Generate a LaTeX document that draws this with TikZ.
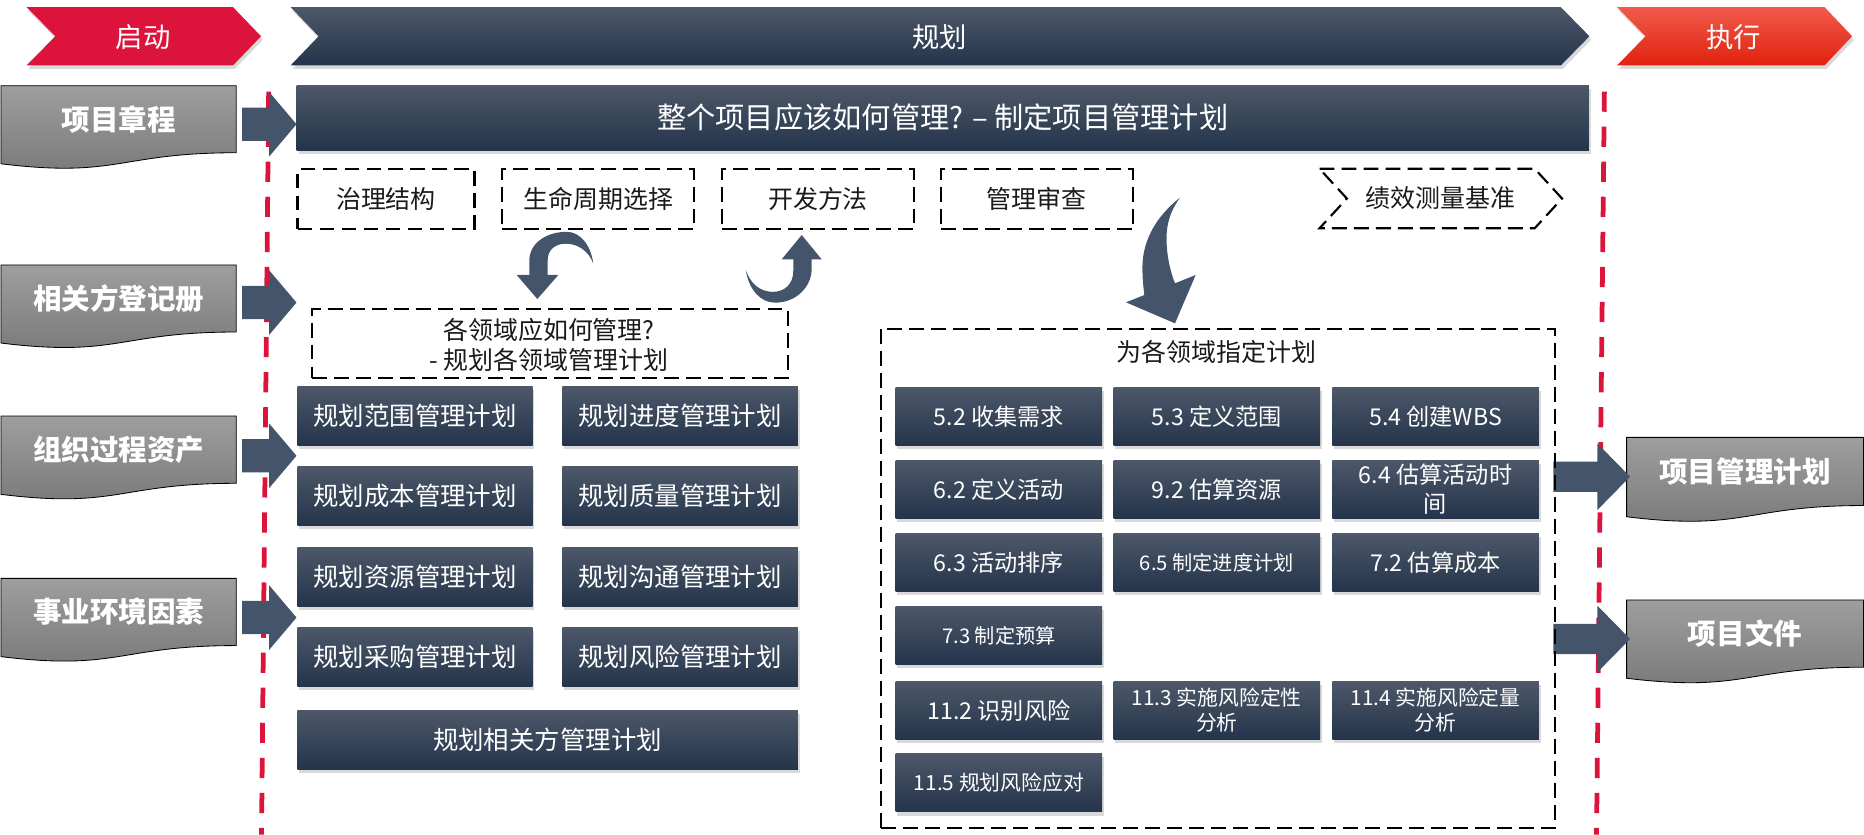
\documentclass[tikz,border=0pt]{standalone}
\usepackage{fontspec}
\setmainfont{Noto Sans CJK SC}
\usetikzlibrary{shadows}
\definecolor{navyT}{HTML}{4D5869}
\definecolor{navyB}{HTML}{24344B}
\definecolor{arrowc}{HTML}{44546A}
\definecolor{crim}{HTML}{DC143C}
\definecolor{exT}{HTML}{F05A4C}
\definecolor{exB}{HTML}{E0220E}
\definecolor{docT}{HTML}{9E9E9E}
\definecolor{docB}{HTML}{787878}
\definecolor{txt}{HTML}{1A1A1A}

\tikzset{
  shad/.style={drop shadow={opacity=0.3, shadow xshift=1.5pt, shadow yshift=-3pt}},
  darkbox/.style={rectangle, top color=navyT, bottom color=navyB, draw=none, text=white,
    align=center, inner sep=0pt, anchor=north west, shad},
  lbox/.style={darkbox, minimum width=198pt, minimum height=49.7pt, font=\fontsize{21.4}{26}\selectfont},
  rbox/.style={darkbox, minimum width=173.8pt, minimum height=49.1pt, font=\fontsize{19.5}{24}\selectfont},
  rsmall/.style={font=\fontsize{17}{21}\selectfont},
  rmid/.style={font=\fontsize{17.5}{21}\selectfont},
  dashline/.style={draw=black, line width=1.8pt, dash pattern=on 12.5pt off 6pt},
  dashbox/.style={rectangle, dashline, anchor=north west, inner sep=0pt, text=txt,
    align=center, font=\fontsize{21}{25}\selectfont},
  dtext/.style={text=txt, align=center, font=\fontsize{21}{25}\selectfont},
  doc/.style={top color=docT, bottom color=docB, draw=black, line width=0.7pt},
  doctext/.style={text=white, font=\bfseries\fontsize{24}{29}\selectfont},
  headtext/.style={text=white, font=\fontsize{23}{28}\selectfont},
  reddash/.style={draw=crim, line width=4pt, dash pattern=on 17pt off 12.5pt},
}

% document shape: name, x, y, w, h, text
\newcommand\mydoc[6]{%
  \path[doc] (#2,#3) -- ({#2+#4},#3) -- ({#2+#4},{#3+0.802*#5})
    .. controls ({#2+0.5*#4},{#3+0.802*#5}) and ({#2+0.5*#4},{#3+1.107*#5}) .. (#2,{#3+0.934*#5}) -- cycle;
  \node[doctext] (#1) at ({#2+0.5*#4},{#3+0.401*#5}) {#6};}
% block arrow: x1, xhead, xtip, ycentre, shaft half, head half
\newcommand\fatarrow[6]{%
  \fill[arrowc] (#1,{#4-#5}) -- (#2,{#4-#5}) -- (#2,{#4-#6}) -- (#3,#4) -- (#2,{#4+#6})
    -- (#2,{#4+#5}) -- (#1,{#4+#5}) -- cycle;}
% chevron: x1, x2, tip, notch, ytop, ybottom
\newcommand\mychev[6]{(#1,#5) -- (#2,#5) -- (#3,{(#5+#6)/2}) -- (#2,#6) -- (#1,#6) -- (#4,{(#5+#6)/2}) -- cycle}

\begin{document}
\begin{tikzpicture}[x=1pt,y=-1pt]
\useasboundingbox (0,0) rectangle (1568,702);

% header chevrons
\path[fill=crim, shad] \mychev{22.3}{196}{219.6}{46.6}{6}{55};
\node[headtext] (hqd) at (120.5,31) {启动};
\path[top color=navyT, bottom color=navyB, shad] \mychev{244.5}{1313}{1337}{268}{6}{55};
\node[headtext] (hgh) at (790.5,31) {规划};
\path[top color=exT, bottom color=exB, shad] \mychev{1360.3}{1534.8}{1558}{1384.2}{6}{55};
\node[headtext] (hzx) at (1458.3,31) {执行};

% red dashed phase lines
\draw[reddash] (226,77) -- (220,702);
\draw[reddash] (1349.6,77) -- (1343,702);

% input documents
\mydoc{in1}{0.8}{72.1}{198}{70.3}{项目章程}
\mydoc{in2}{0.8}{222.9}{198}{70.3}{相关方登记册}
\mydoc{in3}{0.8}{350}{198}{70.5}{组织过程资产}
\mydoc{in4}{0.8}{486.5}{198}{70.5}{事业环境因素}
% output documents
\mydoc{out1}{1368.3}{367.9}{199.2}{71.5}{项目管理计划}
\mydoc{out2}{1368.3}{504.7}{199.2}{70.5}{项目文件}

% main title bar
\node[darkbox, minimum width=1087pt, minimum height=54.7pt, font=\fontsize{24.6}{29}\selectfont]
  (title) at (249.4,71.5) {整个项目应该如何管理? – 制定项目管理计划};

% block arrows
\fatarrow{203.6}{226.3}{249.4}{104.5}{14}{27.3}
\fatarrow{203.6}{226.3}{249.4}{254.5}{14}{27.3}
\fatarrow{203.6}{226.3}{249.4}{383.4}{14}{27.3}
\fatarrow{203.6}{226.3}{249.4}{519.5}{14}{27.3}
\fatarrow{1306.6}{1343.7}{1371.2}{401}{12.7}{28}
\fatarrow{1306.6}{1343.7}{1371.2}{537.5}{12.7}{28}

% dashed option boxes
\node[dashbox, minimum width=148.8pt, minimum height=50.4pt] (gov) at (249.4,141.6) {治理结构};
\node[dashbox, minimum width=161.6pt, minimum height=50.4pt] (life) at (421.4,141.6) {生命周期选择};
\node[dashbox, minimum width=161.6pt, minimum height=50.4pt] (dev) at (606.4,141.6) {开发方法};
\node[dashbox, minimum width=161.7pt, minimum height=50.4pt] (rev) at (790.5,141.6) {管理审查};
\path[dashline] \mychev{1110}{1291}{1314}{1133}{142}{192};
\node[dtext] (pmb) at (1212,167) {绩效测量基准};

% curved arrows
\fill[arrowc] (445.3,231.3) -- (434.6,231.3) -- (452,251.5) -- (469.7,231.3) -- (460.7,231.3)
  -- (460.7,219) .. controls (460.7,210) and (467,205) .. (476,205)
  .. controls (486,205) and (495,211) .. (499,221.5)
  .. controls (497,206) and (488,195) .. (476.7,195)
  .. controls (459,195) and (445.3,205) .. (445.3,219) -- cycle;
\fill[arrowc] (627.3,227.1) .. controls (630,244) and (640,254.6) .. (652,254.6)
  .. controls (670,254.6) and (682.8,241) .. (682.8,226) -- (682.8,218.2) -- (691.2,218.2)
  -- (674.4,197.7) -- (657.5,218.2) -- (667.3,218.2) -- (667.3,228)
  .. controls (667.3,239) and (660,245.5) .. (650,245.5)
  .. controls (639,245.5) and (631,238) .. (627.3,227.1) -- cycle;
\fill[arrowc] (992.6,166.3) .. controls (975,180) and (961,200) .. (961,225)
  .. controls (961,235) and (962,243) .. (962.6,248.2) -- (947.2,254.3) -- (988.4,272)
  -- (1005.8,231.3) -- (988.4,238.3) .. controls (983,225) and (980.5,208) .. (981.5,195)
  .. controls (982.5,183) and (987,174) .. (992.6,166.3) -- cycle;

% area planning box
\node[dashbox, minimum width=400pt, minimum height=58pt] (areas) at (261.8,259) {};
\node[dtext] (areatxt) at (461.8,290) {各领域应如何管理?\\- 规划各领域管理计划};

% left grid
\node[lbox] (p1) at (249.9,324.7) {规划范围管理计划};
\node[lbox] (p2) at (472.9,324.7) {规划进度管理计划};
\node[lbox] (p3) at (249.9,392.3) {规划成本管理计划};
\node[lbox] (p4) at (472.9,392.3) {规划质量管理计划};
\node[lbox] (p5) at (249.9,460) {规划资源管理计划};
\node[lbox] (p6) at (472.9,460) {规划沟通管理计划};
\node[lbox] (p7) at (249.9,527.7) {规划采购管理计划};
\node[lbox] (p8) at (472.9,527.7) {规划风险管理计划};
\node[lbox, minimum width=421pt] (p9) at (249.9,597.2) {规划相关方管理计划};

% big dashed box
\node[dashbox, minimum width=566.8pt, minimum height=419.8pt] (big) at (740.2,275.6) {};
\node[dtext] (bigtitle) at (1023.6,295.8) {为各领域指定计划};

% right grid
\node[rbox] (q1) at (753.2,325.8) {5.2 收集需求};
\node[rbox] (q2) at (936.5,325.8) {5.3 定义范围};
\node[rbox] (q3) at (1120.5,325.8) {5.4 创建WBS};
\node[rbox] (q4) at (753.2,386.9) {6.2 定义活动};
\node[rbox] (q5) at (936.5,386.9) {9.2 估算资源};
\node[rbox] (q6) at (1120.5,386.9) {6.4 估算活动时\\间};
\node[rbox] (q7) at (753.2,448.6) {6.3 活动排序};
\node[rbox, rsmall] (q8) at (936.5,448.6) {6.5 制定进度计划};
\node[rbox] (q9) at (1120.5,448.6) {7.2 估算成本};
\node[rbox, rsmall] (q10) at (753.2,509.8) {7.3 制定预算};
\node[rbox] (q11) at (753.2,572.9) {11.2 识别风险};
\node[rbox, rmid] (q12) at (936.5,572.9) {11.3 实施风险定性\\分析};
\node[rbox, rmid] (q13) at (1120.5,572.9) {11.4 实施风险定量\\分析};
\node[rbox, rmid] (q14) at (753.2,633.7) {11.5 规划风险应对};
\end{tikzpicture}
\end{document}
